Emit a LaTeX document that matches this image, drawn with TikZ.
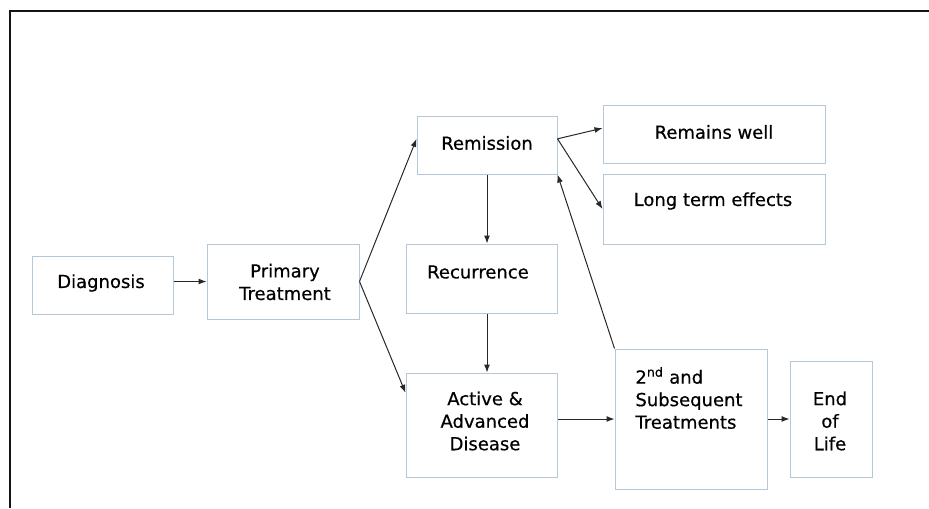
\documentclass[tikz,border=0pt]{standalone}
\usepackage{fontspec}
\setmainfont{DejaVu Sans}[FakeBold=0.5]
\usetikzlibrary{arrows.meta}

\begin{document}
\begin{tikzpicture}[x=0.75pt,y=-0.75pt]
		\tikzstyle{every node}=[font=\fontsize{13.5}{16.9}\selectfont]
		\tikzstyle{box}=[draw={rgb,255:red,180; green,200; blue,215}, line width=0.75pt, inner sep=0pt]
		\tikzstyle{lbl}=[align=center, inner sep=0pt]
		\tikzstyle{arr}=[draw={rgb,255:red,40; green,40; blue,40}, line width=0.75pt, -{Latex[length=6pt,width=4.5pt]}]
		\useasboundingbox (0,0) rectangle (929,508);
		% frame
		\draw [line width=1.5pt, color={rgb,255:red,20; green,20; blue,20}] (929,11) -- (10,11) -- (10,508);
		% boxes
		\node [box, minimum width=105.75pt, minimum height=43.5pt] (diag) at (102.5,285) {};
		\node [box, minimum width=114pt, minimum height=56.25pt] (prim) at (283,281.5) {};
		\node [box, minimum width=105pt, minimum height=43.5pt] (remis) at (487,145) {};
		\node [box, minimum width=166.5pt, minimum height=43.5pt] (well) at (714,134) {};
		\node [box, minimum width=166.5pt, minimum height=52.5pt] (longterm) at (714,209) {};
		\node [box, minimum width=113.25pt, minimum height=51.75pt] (recur) at (481.5,278.5) {};
		\node [box, minimum width=113.25pt, minimum height=78pt] (active) at (481.5,425) {};
		\node [box, minimum width=114pt, minimum height=105pt] (second) at (691,419) {};
		\node [box, minimum width=61.5pt, minimum height=87pt] (endlife) at (831,419) {};
		% texts
		\node [lbl] (diagtxt) at (101,283) {Diagnosis};
		\node [lbl] (primtxt) at (285,282) {Primary\\Treatment};
		\node [lbl] (remistxt) at (487,143) {Remission};
		\node [lbl] (welltxt) at (714,132) {Remains well};
		\node [lbl] (longtermtxt) at (713,201) {Long term effects};
		\node [lbl] (recurtxt) at (478,272) {Recurrence};
		\node [lbl] (activetxt) at (485,421) {Active \&\\Advanced\\Disease};
		\node [lbl, align=left] (secondtxt) at (689,398) {2\textsuperscript{nd} and\\Subsequent\\Treatments};
		\node [lbl] (endlifetxt) at (830,421) {End\\of\\Life};
		% arrows
		\draw [arr] (prim.west -| diag.east) -- (prim.west);
		\draw [arr] (prim.east) -- (remis.175);
		\draw [arr] (prim.east) -- (active.157);
		\draw [arr] (remis.5) -- (well.177);
		\draw [arr] (remis.5) -- (longterm.west);
		\draw [arr] (remis.south) -- (remis.south |- recur.north);
		\draw [arr] (remis.south |- recur.south) -- (remis.south |- active.north);
		\draw [arr] (second.west -| active.east) -- (second.west);
		\draw [arr] (second.north west) -- (remis.south east);
		\draw [arr] (second.east) -- (endlife.west);
		\end{tikzpicture}
\end{document}
